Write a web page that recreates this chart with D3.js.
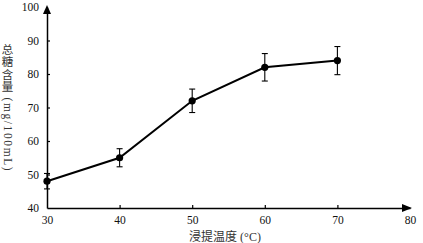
<!DOCTYPE html>
<html>
<head>
<meta charset="utf-8">
<script src="https://cdn.jsdelivr.net/npm/d3@7"></script>
<style>
  body { margin: 0; background: #fff; }
  text { font-family: "Liberation Serif", "Times New Roman", serif; fill: #111; }
  .cjk { font-family: "Noto Sans CJK SC", sans-serif; fill: #333; }
</style>
</head>
<body>
<div id="chart"></div>
<script>
// data
const temps = [30, 40, 50, 60, 70];
const sugar = [48, 55, 72, 82, 84];
const errors = [2.3, 2.7, 3.5, 4.1, 4.2];
const xTicks = [30, 40, 50, 60, 70, 80];
const yTicks = [40, 50, 60, 70, 80, 90, 100];

const W = 423, H = 243;
const margin = { top: 7, right: 13, bottom: 35, left: 47 };

const svg = d3.select("#chart").append("svg")
    .attr("width", W).attr("height", H);

const x = d3.scaleLinear().domain([30, 80]).range([margin.left, W - margin.right]);
const y = d3.scaleLinear().domain([40, 100]).range([H - margin.bottom, margin.top]);

// axes (ticks point inward)
const xAxis = svg.append("g")
    .attr("transform", `translate(0,${y(40)})`)
    .call(d3.axisBottom(x).tickValues(xTicks).tickSizeInner(-3).tickSizeOuter(0).tickPadding(8));
const yAxis = svg.append("g")
    .attr("transform", `translate(${x(30)},0)`)
    .call(d3.axisLeft(y).tickValues(yTicks).tickSizeInner(-3).tickSizeOuter(0).tickPadding(8));

[xAxis, yAxis].forEach(g => {
    g.select(".domain").attr("stroke", "#000").attr("stroke-width", 1.5);
    g.selectAll(".tick line").attr("stroke", "#000").attr("stroke-width", 1.2);
    g.selectAll(".tick text")
        .style("font-family", "'Liberation Serif', serif")
        .style("font-size", "11.5px").attr("fill", "#111");
});
// no tick marks at the axis ends (arrows sit there)
xAxis.selectAll(".tick").filter(d => d === 30 || d === 80).select("line").remove();
yAxis.selectAll(".tick").filter(d => d === 40 || d === 100).select("line").remove();

// arrows at axis ends
svg.append("path")
    .attr("d", `M${x(30) - 4},${y(100) + 7} L${x(30)},${y(100) - 2} L${x(30) + 4},${y(100) + 7} Z`)
    .attr("fill", "#000");
svg.append("path")
    .attr("d", `M${x(80) - 8},${y(40) - 4} L${x(80) + 2},${y(40)} L${x(80) - 8},${y(40) + 4} Z`)
    .attr("fill", "#000");

// error bars
const eb = svg.append("g").attr("stroke", "#000").attr("stroke-width", 1.1);
temps.forEach((t, i) => {
    const cx = x(t), lo = y(sugar[i] - errors[i]), hi = y(sugar[i] + errors[i]);
    eb.append("line").attr("x1", cx).attr("x2", cx).attr("y1", lo).attr("y2", hi);
    eb.append("line").attr("x1", cx - 3).attr("x2", cx + 3).attr("y1", lo).attr("y2", lo);
    eb.append("line").attr("x1", cx - 3).attr("x2", cx + 3).attr("y1", hi).attr("y2", hi);
});

// line + markers
const pts = temps.map((t, i) => [t, sugar[i]]);
svg.append("path")
    .datum(pts)
    .attr("fill", "none")
    .attr("stroke", "#000")
    .attr("stroke-width", 2)
    .attr("d", d3.line().x(d => x(d[0])).y(d => y(d[1])));
svg.selectAll("circle.pt")
    .data(pts)
    .enter().append("circle")
    .attr("class", "pt")
    .attr("cx", d => x(d[0]))
    .attr("cy", d => y(d[1]))
    .attr("r", 3.6)
    .attr("fill", "#000");

// x label
const xl = svg.append("text")
    .attr("x", 225).attr("y", 241)
    .attr("text-anchor", "middle")
    .style("font-size", "12px");
xl.append("tspan").attr("class", "cjk").text("浸提温度");
xl.append("tspan").attr("fill", "#333").text(" (°C)");

// y label, vertical writing: CJK upright, latin rotated
const yl = svg.append("text")
    .attr("x", 7.5).attr("y", 44)
    .style("writing-mode", "vertical-rl")
    .style("font-size", "11.5px");
yl.append("tspan").attr("class", "cjk").style("letter-spacing", "0.8px").text("总糖含量");
yl.append("tspan").attr("fill", "#333").style("letter-spacing", "1.6px").text(" (mg/100mL)");
</script>
</body>
</html>
